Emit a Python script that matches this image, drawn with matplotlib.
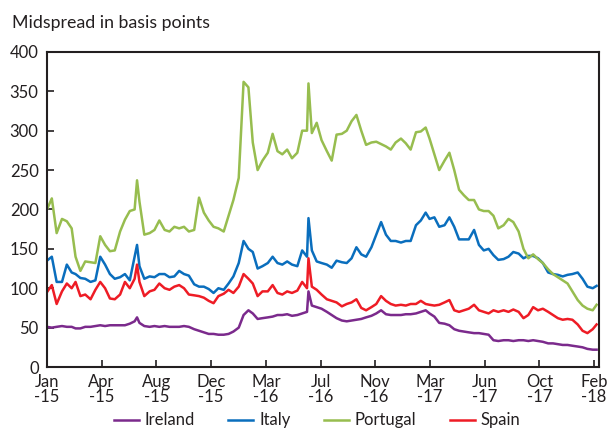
import matplotlib
matplotlib.use("Agg")
import matplotlib.pyplot as plt
import pandas as pd

plt.rcParams["font.family"] = ["Lato", "DejaVu Sans"]

# Observation dates (roughly every ten days, plus a few spike days)
dates = [
    "2015-01-01", "2015-01-11", "2015-01-21", "2015-02-01", "2015-02-11", "2015-02-21",
    "2015-03-01", "2015-03-11", "2015-03-21", "2015-04-01", "2015-04-11", "2015-04-21",
    "2015-05-01", "2015-05-11", "2015-05-21", "2015-06-01", "2015-06-11", "2015-06-21",
    "2015-07-01", "2015-07-06", "2015-07-11", "2015-07-21", "2015-08-01", "2015-08-11",
    "2015-08-21", "2015-09-01", "2015-09-11", "2015-09-21", "2015-10-01", "2015-10-11",
    "2015-10-21", "2015-11-01", "2015-11-11", "2015-11-21", "2015-12-01", "2015-12-11",
    "2015-12-21",
    "2016-01-01", "2016-01-11", "2016-01-21", "2016-02-01", "2016-02-11", "2016-02-21",
    "2016-03-01", "2016-03-11", "2016-03-21", "2016-04-01", "2016-04-11", "2016-04-21",
    "2016-05-01", "2016-05-11", "2016-05-21", "2016-06-01", "2016-06-11", "2016-06-21",
    "2016-06-24", "2016-07-01", "2016-07-11", "2016-07-21", "2016-08-01", "2016-08-11",
    "2016-08-21", "2016-09-01", "2016-09-11", "2016-09-21", "2016-10-01", "2016-10-11",
    "2016-10-21", "2016-11-01", "2016-11-11", "2016-11-21", "2016-12-01", "2016-12-11",
    "2016-12-21",
    "2017-01-01", "2017-01-11", "2017-01-21", "2017-02-01", "2017-02-11", "2017-02-21",
    "2017-03-01", "2017-03-11", "2017-03-21", "2017-04-01", "2017-04-11", "2017-04-21",
    "2017-05-01", "2017-05-11", "2017-05-21", "2017-06-01", "2017-06-11", "2017-06-21",
    "2017-07-01", "2017-07-11", "2017-07-21", "2017-08-01", "2017-08-11", "2017-08-21",
    "2017-09-01", "2017-09-11", "2017-09-21", "2017-10-01", "2017-10-11", "2017-10-21",
    "2017-11-01", "2017-11-11", "2017-11-21", "2017-12-01", "2017-12-11", "2017-12-21",
    "2018-01-01", "2018-01-11", "2018-01-21", "2018-02-01", "2018-02-09",
]

ireland = [
    51, 50, 51, 52, 51, 51, 49, 49, 51, 51, 52, 53, 52, 53, 53, 53, 53, 55,
    58, 63, 56, 52, 51, 52, 51, 52, 51, 51, 51, 52, 51, 48, 46, 44, 42, 42, 41,
    41, 42, 45, 50, 66, 72, 68, 61, 62, 63, 64, 66, 66, 67, 65, 66, 68, 70,
    96, 78, 76, 74, 70, 66, 62, 59, 58, 59, 60, 61, 63, 65, 68, 72, 67, 66, 66,
    66, 67, 67, 68, 70, 72, 68, 64, 56, 55, 53, 48, 46, 45, 44, 43, 43, 42,
    41, 34, 33, 34, 34, 33, 34, 34, 33, 34, 33, 32, 30, 30, 29, 28, 28, 27,
    26, 25, 23, 22, 22,
]

italy = [
    135, 140, 108, 108, 130, 120, 118, 113, 112, 108, 110, 140, 130, 118, 112, 114, 118, 110,
    140, 155, 128, 112, 115, 114, 118, 118, 114, 115, 122, 118, 116, 105, 102, 102, 99, 94, 100,
    98, 106, 115, 132, 160, 150, 146, 125, 128, 132, 140, 132, 130, 134, 130, 128, 148, 140,
    189, 148, 134, 132, 130, 126, 135, 133, 132, 138, 152, 143, 140, 152, 168, 184, 168, 160, 160,
    158, 160, 160, 180, 186, 196, 188, 190, 178, 180, 190, 178, 162, 162, 162, 174, 155, 148,
    150, 142, 136, 137, 140, 146, 144, 138, 141, 141, 138, 132, 120, 118, 117, 115, 117, 118,
    120, 112, 102, 100, 103,
]

portugal = [
    200, 214, 170, 188, 185, 176, 140, 122, 134, 133, 132, 166, 155, 147, 148, 172, 187, 198,
    200, 237, 210, 168, 170, 174, 186, 174, 172, 178, 176, 178, 172, 174, 215, 196, 186, 178, 176,
    172, 192, 212, 240, 362, 355, 285, 250, 262, 272, 296, 274, 270, 276, 265, 272, 300, 300,
    360, 297, 310, 288, 274, 262, 295, 296, 300, 312, 320, 300, 282, 285, 286, 283, 280, 276, 285,
    290, 284, 276, 298, 299, 304, 290, 270, 250, 262, 272, 250, 225, 218, 212, 212, 200, 198,
    198, 192, 176, 180, 188, 184, 172, 150, 138, 143, 137, 132, 124, 118, 114, 110, 106, 96,
    85, 78, 74, 72, 79,
]

spain = [
    95, 104, 80, 96, 106, 100, 108, 90, 92, 86, 98, 108, 100, 87, 86, 92, 108, 100,
    112, 130, 108, 90, 96, 98, 106, 100, 98, 102, 104, 100, 92, 91, 90, 88, 84, 81, 90,
    93, 98, 94, 102, 118, 112, 106, 90, 96, 96, 104, 94, 92, 96, 94, 97, 108, 100,
    138, 102, 98, 92, 86, 84, 82, 77, 80, 82, 86, 75, 72, 76, 80, 90, 84, 80, 78,
    79, 78, 80, 80, 84, 80, 79, 78, 79, 82, 85, 72, 70, 72, 74, 79, 72, 70,
    68, 72, 70, 72, 70, 73, 70, 62, 66, 76, 72, 74, 70, 66, 62, 60, 61, 60,
    54, 46, 43, 48, 54,
]

tick_dates = [
    "2015-01-01", "2015-04-24", "2015-08-15", "2015-12-06", "2016-03-28", "2016-07-19",
    "2016-11-09", "2017-03-02", "2017-06-23", "2017-10-14", "2018-02-04",
]
tick_labels = [
    "Jan\n-15", "Apr\n-15", "Aug\n-15", "Dec\n-15", "Mar\n-16", "Jul\n-16",
    "Nov\n-16", "Mar\n-17", "Jun\n-17", "Oct\n-17", "Feb\n-18",
]

x = pd.to_datetime(dates)
text_color = "#231f20"

fig = plt.figure(figsize=(6.10, 4.29), dpi=100)
ax = fig.add_axes([0.077, 0.1445, 0.905, 0.7345])

ax.plot(x, ireland, color="#7b2a8c", lw=1.8, label="Ireland")
ax.plot(x, italy, color="#0a6ebd", lw=1.8, label="Italy")
ax.plot(x, portugal, color="#97bd4f", lw=1.8, label="Portugal")
ax.plot(x, spain, color="#ee1c25", lw=1.8, label="Spain")

ax.set_xlim(pd.Timestamp("2015-01-01"), pd.Timestamp("2018-02-14"))
ax.set_ylim(0, 400)
ax.set_yticks(range(0, 401, 50))
ax.set_xticks(pd.to_datetime(tick_dates))
ax.set_xticklabels(tick_labels, linespacing=0.92)

ax.tick_params(direction="in", length=5, width=1.2, colors=text_color,
               labelsize=12)
ax.tick_params(axis="x", pad=5)
ax.tick_params(axis="y", pad=6)
for side in ["left", "bottom", "top", "right"]:
    ax.spines[side].set_linewidth(1.5)
    ax.spines[side].set_color(text_color)

fig.text(0.019, 0.947, "Midspread in basis points", fontsize=12.8,
         color=text_color, ha="left", va="center")

fig.legend(loc="center", bbox_to_anchor=(0.52, 0.02), ncol=4, frameon=False,
           fontsize=12, handlelength=1.5, handletextpad=0.35, columnspacing=2.0,
           labelcolor=text_color)

fig.savefig("out.png", dpi=100)
